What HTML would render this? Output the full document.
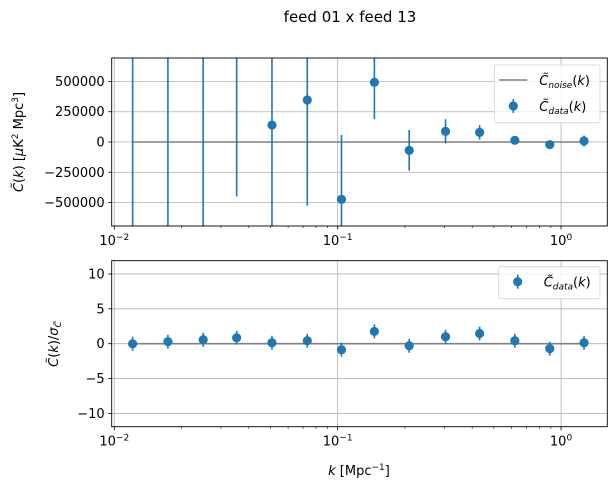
<!DOCTYPE html>
<html><head><meta charset="utf-8">
<style>
html,body{margin:0;padding:0;background:#fff;width:616px;height:493px;overflow:hidden;}
svg{display:block;font-family:"DejaVu Sans","Liberation Sans",sans-serif;}
</style></head>
<body>
<svg id="fig" width="616" height="493" viewBox="0 0 616 493" xmlns="http://www.w3.org/2000/svg">
<rect width="616" height="493" fill="#fff"/>
<text x="350" y="22" font-size="15" text-anchor="middle">feed 01 x feed 13</text>
<g id="topg"></g>
<g id="botg"></g>
<text transform="translate(23,142) rotate(-90)" font-size="13" text-anchor="middle"><tspan font-style="italic">C̃</tspan>(<tspan font-style="italic">k</tspan>) [<tspan font-style="italic">μ</tspan>K<tspan font-size="9" dy="-5">2</tspan><tspan dy="5"> Mpc</tspan><tspan font-size="9" dy="-5">3</tspan><tspan dy="5">]</tspan></text>
<text transform="translate(58,344) rotate(-90)" font-size="13" text-anchor="middle"><tspan font-style="italic">C̃</tspan>(<tspan font-style="italic">k</tspan>)/<tspan font-style="italic">σ</tspan><tspan font-size="9" dy="3" font-style="italic">C̃</tspan></text>
<text x="359" y="475" font-size="13" text-anchor="middle"><tspan font-style="italic">k</tspan> [Mpc<tspan font-size="9" dy="-5">−1</tspan><tspan dy="5">]</tspan></text>
</svg>
<script>
const kValues=[0.01208,0.01738,0.025,0.0353,0.0508,0.0731,0.104,0.146,0.209,0.304,0.432,0.621,0.890,1.267];
const cData=[1000000,1500000,1200000,1700000,140000,347000,-474000,493000,-69000,88000,80000,14000,-22000,8000];
const cErr=[90000000,5000000,2100000,2150000,1000000,873000,532000,303000,168000,100000,60000,25000,15000,45000];
const ratio=[0.0,0.29,0.57,0.86,0.14,0.43,-0.86,1.76,-0.29,1.0,1.47,0.43,-0.71,0.14];
const ratioErr=[1,1,1,1,1,1,1,1,1,1,1,1,1,1];
const noiseLevel=[0,0];
const topTicks=[500000,250000,0,-250000,-500000];
const topTickLabels=["500000","250000","0","−250000","−500000"];
const botTicks=[10,5,0,-5,-10];
const botTickLabels=["10","5","0","−5","−10"];
const xDecades=[-2,-1,0];

const NS="http://www.w3.org/2000/svg";
const X0=111.7,X1=607.3,LMIN=-2.0116,LMAX=0.207;
function xs(k){return X0+(Math.log10(k)-LMIN)/(LMAX-LMIN)*(X1-X0);}
function mk(p,tag,a){const e=document.createElementNS(NS,tag);for(const k in a)e.setAttribute(k,a[k]);p.appendChild(e);return e;}
const BLUE="#1f77b4";

function panel(g,Y0,Y1,ymin,ymax,ticks,labels,vals,errs,isTop){
  const ys=v=>Y1-(v-ymin)/(ymax-ymin)*(Y1-Y0);
  const cl=y=>Math.max(Y0,Math.min(Y1,y));
  ticks.forEach((t,i)=>{
    const l=mk(g,'line',{x1:X0,x2:X1,y1:ys(t),y2:ys(t),stroke:'#b0b0b0','stroke-width':0.8});
    
    
    const tk=mk(g,'line',{x1:X0-3.5,x2:X0,y1:ys(t),y2:ys(t),stroke:'#000','stroke-width':0.8});
    
    
    const tx=mk(g,'text',{x:X0-7,y:ys(t)+4.5,'font-size':13,'text-anchor':'end'});
    tx.textContent=labels[i];
    
    
  });
  xDecades.forEach(d=>{
    const x=xs(Math.pow(10,d));
    if(x>X0){const l=mk(g,'line',{x1:x,x2:x,y1:Y0,y2:Y1,stroke:'#b0b0b0','stroke-width':0.8});
    
    }
    const tk=mk(g,'line',{x1:x,x2:x,y1:Y1,y2:Y1+3.5,stroke:'#000','stroke-width':0.8});
    
    
    const tx=mk(g,'text',{x:x,y:Y1+19,'font-size':13,'text-anchor':'middle'});
    tx.innerHTML='10<tspan font-size="9" dy="-5">'+(d<0?'−'+(-d):d)+'</tspan>';
    
    
    for(let m=2;m<=9;m++){const mx=xs(m*Math.pow(10,d));if(mx<X1&&mx>X0){
      const mt=mk(g,'line',{x1:mx,x2:mx,y1:Y1,y2:Y1+2,stroke:'#000','stroke-width':0.6});
      
      }}
  });
  const nl=mk(g,'line',{x1:xs(kValues[0]),x2:xs(kValues[kValues.length-1]),y1:cl(ys(noiseLevel[0])),y2:cl(ys(noiseLevel[1])),stroke:'#808080','stroke-width':1.6});
  
  
  kValues.forEach((k,i)=>{
    const x=xs(k);
    const e=mk(g,'line',{x1:x,x2:x,y1:cl(ys(vals[i]+errs[i])),y2:cl(ys(vals[i]-errs[i])),stroke:BLUE,'stroke-width':1.6});
    
    
    const cy=ys(vals[i]);
    if(cy>=Y0&&cy<=Y1){
      const c=mk(g,'circle',{cx:x,cy:cy,r:4.6,fill:BLUE});
      
      
    }
  });
  const fr=mk(g,'rect',{x:X0,y:Y0,width:X1-X0,height:Y1-Y0,fill:'none',stroke:'#000','stroke-width':0.9});
  
  
}
const topPanel=document.getElementById('topg'),botPanel=document.getElementById('botg');
panel(topPanel,58,226,-694000,694000,topTicks,topTickLabels,cData,cErr,true);
panel(botPanel,260.7,426.7,-11.9,11.9,botTicks,botTickLabels,ratio,ratioErr,false);

function legend(g,x,y,w,h,items){
  const lg=mk(g,'g',{});
  
  
  mk(lg,'rect',{x:x,y:y,width:w,height:h,rx:2,fill:'#fff','fill-opacity':0.8,stroke:'#d0d0d0','stroke-width':0.8});
  items.forEach((it,i)=>{
    const cy=y+15+i*26;
    const en=mk(lg,'g',{});
    
    
    if(it.type==='line'){mk(en,'line',{x1:x+5,x2:x+33,y1:cy,y2:cy,stroke:'#808080','stroke-width':1.6});}
    else{mk(en,'line',{x1:x+19,x2:x+19,y1:cy-7,y2:cy+7,stroke:BLUE,'stroke-width':1.6});mk(en,'circle',{cx:x+19,cy:cy,r:4.6,fill:BLUE});}
    const t=mk(en,'text',{x:x+45,y:cy+5,'font-size':13,'font-style':'italic'});
    t.innerHTML='C̃<tspan font-size="9" dy="3">'+it.sub+'</tspan><tspan dy="-3" font-style="normal">(</tspan>k<tspan font-style="normal">)</tspan>';
  });
}
legend(topPanel,494.3,65,105.7,57.7,[{type:'line',sub:'noise'},{type:'pt',sub:'data'}]);
legend(botPanel,498.7,266.7,101.3,32,[{type:'pt',sub:'data'}]);
</script>
</body></html>
